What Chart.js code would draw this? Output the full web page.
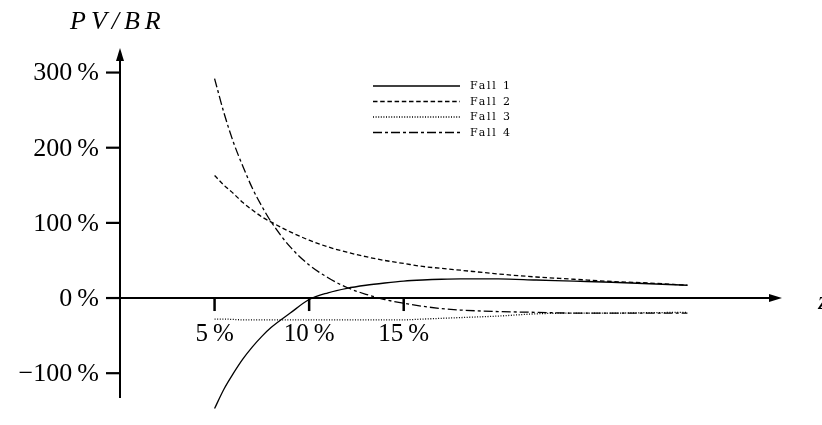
<!DOCTYPE html>
<html>
<head>
<meta charset="utf-8">
<script src="https://cdn.jsdelivr.net/npm/chart.js@4"></script>
<style>
html,body{margin:0;padding:0;background:#fff;}
#wrap{width:822px;height:425px;position:relative;}
</style>
</head>
<body>
<div id="wrap"><canvas id="c" width="822" height="425"></canvas></div>
<script>
// ---- data ----
const xs    = [5, 5.5, 6, 6.5, 7, 7.5, 8, 9, 10, 11, 12, 13, 14, 15, 16, 17, 18, 20, 22, 24, 26, 28, 30];
const fall1 = [-147, -121, -100, -81, -65, -51, -39, -20, -2, 7, 13, 17, 20, 22.5, 24, 25, 25.5, 25.5, 24, 22.5, 21, 19, 17];
const fall2 = [163, 150, 139, 127, 117, 108, 101, 88, 77, 68, 61, 55, 50, 46, 42, 39.5, 37, 32, 28, 25, 22, 20, 17];
const fall3 = [-28, -28, -28.5, -29, -29, -29, -29, -29, -29, -29, -29, -29, -29, -29, -28, -27, -26, -24, -21, -20, -20, -19.5, -19];
const fall4 = [292, 246, 207, 175, 146, 122, 101, 68, 44, 27, 14, 5, -2, -7, -11, -14, -16, -18, -19, -20, -20, -20, -20];
const seriesNames = ['Fall 1', 'Fall 2', 'Fall 3', 'Fall 4'];
const xTicks = [5, 10, 15];
const xTickLabels = ['5\u2009%', '10\u2009%', '15\u2009%'];
const yTicks = [-100, 0, 100, 200, 300];
const yTickLabels = ['\u2212100\u2009%', '0\u2009%', '100\u2009%', '200\u2009%', '300\u2009%'];
const yTitle = 'PV/BR';
const xTitle = 'z';

const dashes = [[], [4.5, 2.7], [1, 1.6], [9, 3, 3, 3]];
const allSeries = [fall1, fall2, fall3, fall4];

const datasets = allSeries.map((s, i) => ({
  label: seriesNames[i],
  data: xs.map((x, j) => ({x: x, y: s[j]})),
  borderColor: '#000',
  borderWidth: 1.3,
  borderDash: dashes[i],
  pointRadius: 0,
  fill: false,
  tension: 0.4,
  cubicInterpolationMode: 'monotone',
  clip: false
}));

const axesPlugin = {
  id: 'axesPlugin',
  afterDatasetsDraw(chart) {
    const ctx = chart.ctx;
    const xs_ = chart.scales.x, ys_ = chart.scales.y;
    const x0 = xs_.getPixelForValue(0);
    const y0 = ys_.getPixelForValue(0);
    const left = xs_.getPixelForValue(0);
    const right = xs_.getPixelForValue(35);
    const top = ys_.getPixelForValue(330);
    const bottom = ys_.getPixelForValue(-133);
    ctx.save();
    ctx.setLineDash([]);
    ctx.strokeStyle = '#000';
    ctx.fillStyle = '#000';
    ctx.lineWidth = 2;
    // y axis
    ctx.beginPath();
    ctx.moveTo(x0, bottom);
    ctx.lineTo(x0, top + 10);
    ctx.stroke();
    ctx.beginPath();
    ctx.moveTo(x0, top - 2);
    ctx.lineTo(x0 - 4, top + 11);
    ctx.lineTo(x0 + 4, top + 11);
    ctx.closePath();
    ctx.fill();
    // x axis
    ctx.beginPath();
    ctx.moveTo(left, y0);
    ctx.lineTo(right - 10, y0);
    ctx.stroke();
    ctx.beginPath();
    ctx.moveTo(right, y0);
    ctx.lineTo(right - 13, y0 - 4);
    ctx.lineTo(right - 13, y0 + 4);
    ctx.closePath();
    ctx.fill();
    // y ticks
    ctx.lineWidth = 2.2;
    ctx.font = '26px "Liberation Serif"';
    ctx.textAlign = 'right';
    ctx.textBaseline = 'middle';
    yTicks.forEach((v, i) => {
      const py = ys_.getPixelForValue(v);
      ctx.beginPath();
      ctx.moveTo(x0 - 14, py);
      ctx.lineTo(x0, py);
      ctx.stroke();
      ctx.fillText(yTickLabels[i], x0 - 21, py + 1);
    });
    // x ticks
    ctx.lineWidth = 2.5;
    ctx.textAlign = 'center';
    ctx.font = '25px "Liberation Serif"';
    xTicks.forEach((v, i) => {
      const px = xs_.getPixelForValue(v);
      ctx.beginPath();
      ctx.moveTo(px, y0);
      ctx.lineTo(px, y0 + 13);
      ctx.stroke();
      ctx.fillText(xTickLabels[i], px, y0 + 36);
    });
    // titles
    ctx.font = 'italic 26px "Liberation Serif"';
    ctx.textAlign = 'left';
    try { ctx.letterSpacing = '5px'; } catch (e) {}
    ctx.fillText(yTitle, 70, 22);
    try { ctx.letterSpacing = '0px'; } catch (e) {}
    ctx.fillText(xTitle, 818, y0 + 4);
    // legend
    ctx.lineWidth = 1.3;
    ctx.font = '11px "DejaVu Serif"';
    try { ctx.letterSpacing = '1.8px'; } catch (e) {}
    const rows = [86, 101.5, 117, 132.5];
    seriesNames.forEach((n, i) => {
      ctx.setLineDash(dashes[i]);
      ctx.beginPath();
      ctx.moveTo(373, rows[i]);
      ctx.lineTo(460, rows[i]);
      ctx.stroke();
      ctx.setLineDash([]);
      ctx.fillText(n, 470, rows[i] + 0.5);
    });
    ctx.restore();
  }
};

new Chart(document.getElementById('c'), {
  type: 'line',
  data: {datasets: datasets},
  options: {
    responsive: false,
    animation: false,
    layout: {padding: {left: 120, right: 40, top: 50, bottom: 27}},
    plugins: {legend: {display: false}, tooltip: {enabled: false}},
    scales: {
      x: {type: 'linear', min: 0, max: 35, display: false},
      y: {type: 'linear', min: -133, max: 330, display: false}
    }
  },
  plugins: [axesPlugin]
});
</script>
</body>
</html>
